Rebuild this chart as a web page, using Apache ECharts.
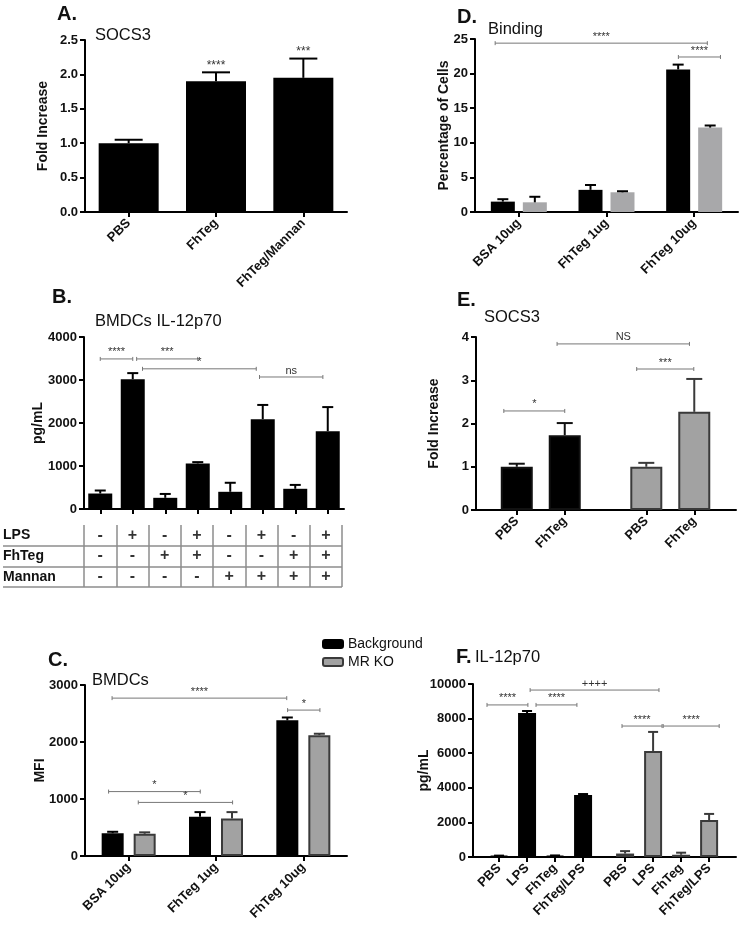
<!DOCTYPE html>
<html><head><meta charset="utf-8">
<script src="https://cdn.jsdelivr.net/npm/echarts@6/dist/echarts.min.js"></script>
<style>html,body{margin:0;padding:0;background:#fff}#c{width:742px;height:927px}</style>
</head><body><div id="c"></div>
<script>
// ---------- DATA ----------
// Panel A
const A_categories = ['PBS', 'FhTeg', 'FhTeg/Mannan'];
const A_values = [1.0, 1.9, 1.95];
const A_errors = [0.05, 0.13, 0.28];
const A_marks = ['', '****', '***'];
// Panel B
const B_values = [360, 3020, 260, 1060, 400, 2090, 470, 1810];
const B_errors = [70, 140, 90, 30, 210, 330, 90, 560];
const B_rows = ['LPS', 'FhTeg', 'Mannan'];
const B_LPS = ['-', '+', '-', '+', '-', '+', '-', '+'];
const B_FhTeg = ['-', '-', '+', '+', '-', '-', '+', '+'];
const B_Mannan = ['-', '-', '-', '-', '+', '+', '+', '+'];
const B_brackets = [[0, 1, 3490, '****'], [1.12, 3, 3490, '***'], [1.3, 4.8, 3260, '*'], [4.9, 6.85, 3070, 'ns']];
// Panel C
const C_categories = ['BSA 10ug', 'FhTeg 1ug', 'FhTeg 10ug'];
const C_background = [400, 690, 2380];
const C_backgroundErr = [25, 80, 50];
const C_mrko = [390, 660, 2120];
const C_mrkoErr = [25, 110, 25];
const C_brackets = [[-0.19, 1.81, 2770, '****'], [1.82, 2.19, 2560, '*'], [-0.23, 0.82, 1130, '*'], [0.11, 1.19, 940, '*']];
// Panel D
const D_categories = ['BSA 10ug', 'FhTeg 1ug', 'FhTeg 10ug'];
const D_background = [1.5, 3.2, 20.6];
const D_backgroundErr = [0.35, 0.7, 0.7];
const D_mrko = [1.4, 2.85, 12.2];
const D_mrkoErr = [0.8, 0.15, 0.3];
const D_brackets = [[-0.27, 2.15, 24.4, '****'], [1.82, 2.3, 22.4, '****']];
// Panel E
const E_categories = ['PBS', 'FhTeg', 'PBS', 'FhTeg'];
const E_background = [1.0, 1.73];
const E_backgroundErr = [0.07, 0.28];
const E_mrko = [1.0, 2.27];
const E_mrkoErr = [0.09, 0.76];
const E_brackets = [[0.73, 2.0, 2.29, '*'], [1.84, 4.6, 3.84, 'NS'], [3.5, 4.69, 3.26, '***']];
// Panel F
const F_categories = ['PBS', 'LPS', 'FhTeg', 'FhTeg/LPS', 'PBS', 'LPS', 'FhTeg', 'FhTeg/LPS'];
const F_background = [60, 8320, 60, 3580];
const F_backgroundErr = [20, 120, 30, 60];
const F_mrko = [200, 6130, 130, 2140];
const F_mrkoErr = [140, 1100, 120, 350];
const F_brackets = [[0.57, 2.03, 8790, '****'], [2.32, 3.78, 8790, '****'], [2.11, 6.71, 9650, '++++'], [5.39, 6.82, 7570, '****'], [6.86, 8.86, 7570, '****']];

// ---------- LAYOUT / STYLE ----------
const FONT = "'Liberation Sans', Arial, Helvetica, sans-serif";
const GREY = '#a2a2a2', GREY_D = '#a8a8aa', EDGE = '#3a3a3a';
const E_slots = [1, 2, 3.7, 4.7];           // x-axis slot positions (layout)
const F_slots = [1, 2, 3, 4, 5.5, 6.5, 7.5, 8.5];

function grid(l, t, r, b) { return { left: l, top: t, width: r - l, height: b - t, outerBoundsMode: 'none' }; }
const lineSt = { color: '#000', width: 2 };
function yAx(gi, max, interval, name, gap, fmt) {
  return { type: 'value', gridIndex: gi, min: 0, max, interval, name, nameLocation: 'middle', nameGap: gap, nameMoveOverlap: false,
    nameTextStyle: { fontFamily: FONT, fontWeight: 'bold', fontSize: 14, color: '#111' },
    axisLine: { show: true, onZero: false, lineStyle: lineSt },
    axisTick: { show: true, length: 5, lineStyle: lineSt },
    axisLabel: { fontFamily: FONT, fontWeight: 'bold', fontSize: 13, color: '#111', margin: 7, formatter: fmt || (v => String(v)) },
    splitLine: { show: false } };
}
function xCat(gi, data, showLabels) {
  return { type: 'category', gridIndex: gi, data,
    axisLine: { show: true, onZero: false, lineStyle: lineSt },
    axisTick: { show: true, alignWithLabel: true, length: 5, lineStyle: lineSt },
    axisLabel: { show: showLabels, interval: 0, rotate: 45, margin: 9, fontFamily: FONT, fontWeight: 'bold', fontSize: 13, color: '#111' },
    splitLine: { show: false } };
}
function xVal(gi, min, max, slots, labels) {
  return { type: 'value', gridIndex: gi, min, max,
    axisLine: { show: true, onZero: false, lineStyle: lineSt },
    axisTick: { show: true, customValues: slots, length: 5, lineStyle: lineSt },
    axisLabel: { customValues: slots, rotate: 45, margin: 9, fontFamily: FONT, fontWeight: 'bold', fontSize: 13, color: '#111',
      formatter: v => { const i = slots.indexOf(v); return i >= 0 ? labels[i] : ''; } },
    splitLine: { show: false } };
}
function bar(ax, data, bw, color, border, gap, name) {
  return { type: 'bar', name, xAxisIndex: ax, yAxisIndex: ax, data, barWidth: bw, barGap: gap, silent: true,
    itemStyle: { color, borderColor: border || color, borderWidth: border ? 2 : 0 } };
}
function errs(ax, xs, vals, errors, offset, capW, color, marks) {
  return { type: 'custom', xAxisIndex: ax, yAxisIndex: ax, silent: true, z: 5,
    data: vals.map((v, i) => [xs[i], v, errors[i]]),
    renderItem(params, api) {
      const x = api.value(0), v = api.value(1), e = api.value(2);
      const p0 = api.coord([x, v]), p1 = api.coord([x, v + e]);
      const cx = p0[0] + offset;
      const ch = [
        { type: 'line', shape: { x1: cx, y1: p0[1], x2: cx, y2: p1[1] }, style: { stroke: color, lineWidth: 2 } },
        { type: 'line', shape: { x1: cx - capW / 2, y1: p1[1], x2: cx + capW / 2, y2: p1[1] }, style: { stroke: color, lineWidth: 2 } }
      ];
      const m = marks && marks[params.dataIndex];
      if (m) ch.push({ type: 'text', style: { text: m, x: cx, y: p1[1] - 1, align: 'center', verticalAlign: 'bottom', font: '12px ' + FONT, fill: '#333' } });
      return { type: 'group', children: ch };
    } };
}
function brackets(ax, brs) {
  return { type: 'custom', xAxisIndex: ax, yAxisIndex: ax, silent: true, z: 6,
    data: brs.map(b => [0, b[2]]),
    renderItem(params, api) {
      const b = brs[params.dataIndex];
      const base = api.coord([0, b[2]]);
      const unit = api.size([1, 0])[0];
      const x1 = base[0] + b[0] * unit, x2 = base[0] + b[1] * unit, y = base[1];
      const st = { stroke: '#777', lineWidth: 1 };
      return { type: 'group', children: [
        { type: 'line', shape: { x1, y1: y, x2, y2: y }, style: st },
        { type: 'line', shape: { x1, y1: y - 2, x2: x1, y2: y + 2 }, style: st },
        { type: 'line', shape: { x1: x2, y1: y - 2, x2, y2: y + 2 }, style: st },
        { type: 'text', style: { text: b[3], x: (x1 + x2) / 2, y: y - 1, align: 'center', verticalAlign: 'bottom', font: '11px ' + FONT, fill: '#333' } }
      ] };
    } };
}
const T = (text, left, top, size, bold) => ({ text, left, top, padding: 0,
  textStyle: { fontFamily: FONT, fontSize: size, fontWeight: bold ? 'bold' : 'normal', color: '#111' } });

const idx = a => a.map((_, i) => i);
const tableSigns = [];
[B_LPS, B_FhTeg, B_Mannan].forEach((row, r) => row.forEach((s, c) => tableSigns.push({ c, r, s })));

// grouped-bar geometry
const C_bw = 22, C_gap = 10 / 22, C_off = (C_bw * (1 + C_gap)) / 2;
const D_bw = 24, D_gap = 8 / 24, D_off = (D_bw * (1 + D_gap)) / 2;

const option = {
  animation: false,
  backgroundColor: '#fff',
  textStyle: { fontFamily: FONT },
  title: [
    T('A.', 57, 4, 20, true), T('SOCS3', 95, 27, 16.5),
    T('B.', 52, 287, 20, true), T('BMDCs IL-12p70', 95, 313, 16.5),
    T('C.', 48, 650, 20, true), T('BMDCs', 92, 672, 16.5),
    T('D.', 457, 7, 20, true), T('Binding', 488, 21, 16.5),
    T('E.', 457, 290, 20, true), T('SOCS3', 484, 309, 16.5),
    T('F.', 456, 647, 20, true), T('IL-12p70', 475, 649, 16.5)
  ],
  legend: { left: 317, top: 632, orient: 'vertical', itemWidth: 20, itemHeight: 8, itemGap: 4, icon: 'roundRect', selectedMode: false,
    textStyle: { fontFamily: FONT, fontSize: 14, color: '#111' },
    data: [{ name: 'Background', itemStyle: { color: '#000' } },
           { name: 'MR KO', itemStyle: { color: GREY, borderColor: EDGE, borderWidth: 2 } }] },
  grid: [
    grid(85, 40, 347, 212),   // 0 A
    grid(84, 337, 344, 509),  // 1 B
    grid(3, 525, 342, 587),   // 2 B table rows
    grid(84, 525, 342, 587),  // 3 B table cells
    grid(85, 685, 347, 856),  // 4 C
    grid(475, 39, 738, 212),  // 5 D
    grid(476, 337, 736, 510), // 6 E
    grid(473, 684, 736, 857)  // 7 F
  ],
  xAxis: [
    xCat(0, A_categories, true),
    xCat(1, idx(B_values).map(String), false),
    { type: 'value', gridIndex: 2, show: false, min: 0, max: 1 },
    { type: 'category', gridIndex: 3, data: idx(B_LPS).map(String), axisLine: { show: false }, axisTick: { show: false }, axisLabel: { show: false },
      splitLine: { show: true, showMinLine: true, showMaxLine: true, lineStyle: { color: '#8c8c8c', width: 1.5 } } },
    xCat(4, C_categories, true),
    xCat(5, D_categories, true),
    xVal(6, 0.15, 5.57, E_slots, E_categories),
    xVal(7, 0.07, 9.46, F_slots, F_categories)
  ],
  yAxis: [
    yAx(0, 2.5, 0.5, 'Fold Increase', 35, v => v.toFixed(1)),
    yAx(1, 4000, 1000, 'pg/mL', 39),
    { type: 'category', gridIndex: 2, data: B_rows, inverse: true, axisLine: { show: false }, axisTick: { show: false },
      axisLabel: { inside: true, margin: 0, align: 'left', fontFamily: FONT, fontWeight: 'bold', fontSize: 14, color: '#111' },
      splitLine: { show: true, showMinLine: false, showMaxLine: true, lineStyle: { color: '#8c8c8c', width: 1.5 } } },
    { type: 'category', gridIndex: 3, data: B_rows, inverse: true, show: false },
    yAx(4, 3000, 1000, 'MFI', 38),
    yAx(5, 25, 5, 'Percentage of Cells', 24),
    yAx(6, 4, 1, 'Fold Increase', 35),
    yAx(7, 10000, 2000, 'pg/mL', 42)
  ],
  series: [
    // A
    bar(0, A_values, 60, '#000'),
    errs(0, idx(A_values), A_values, A_errors, 0, 28, '#000', A_marks),
    // B
    bar(1, B_values, 24, '#000'),
    errs(1, idx(B_values), B_values, B_errors, 0, 11, '#000'),
    brackets(1, B_brackets),
    // B table
    { type: 'scatter', xAxisIndex: 3, yAxisIndex: 3, silent: true, symbolSize: 4, itemStyle: { color: 'rgba(0,0,0,0)' },
      data: tableSigns.map(t => [t.c, t.r]),
      label: { show: true, position: 'inside', formatter: p => tableSigns[p.dataIndex].s, fontFamily: FONT, fontWeight: 'bold', fontSize: 16, color: '#000' } },
    // C
    bar(4, C_background, C_bw, '#000', '#000', (C_gap * 100) + '%', 'Background'),
    bar(4, C_mrko, C_bw, GREY, EDGE, (C_gap * 100) + '%', 'MR KO'),
    errs(4, idx(C_background), C_background, C_backgroundErr, -C_off, 11, '#000'),
    errs(4, idx(C_mrko), C_mrko, C_mrkoErr, C_off, 11, EDGE),
    brackets(4, C_brackets),
    // D
    bar(5, D_background, D_bw, '#000', null, (D_gap * 100) + '%', 'Background '),
    bar(5, D_mrko, D_bw, GREY_D, null, (D_gap * 100) + '%', 'MR KO '),
    errs(5, idx(D_background), D_background, D_backgroundErr, -D_off, 11, '#000'),
    errs(5, idx(D_mrko), D_mrko, D_mrkoErr, D_off, 11, '#000'),
    brackets(5, D_brackets),
    // E
    bar(6, E_background.map((v, i) => [E_slots[i], v]), 32, '#000', '#111', '-100%', 'Background  '),
    bar(6, E_mrko.map((v, i) => [E_slots[i + 2], v]), 32, GREY, EDGE, '-100%', 'MR KO  '),
    errs(6, E_slots.slice(0, 2), E_background, E_backgroundErr, 0, 16, '#111'),
    errs(6, E_slots.slice(2), E_mrko, E_mrkoErr, 0, 16, EDGE),
    brackets(6, E_brackets),
    // F
    bar(7, F_background.map((v, i) => [F_slots[i], v]), 18, '#000', '#000', '-100%', 'Background   '),
    bar(7, F_mrko.map((v, i) => [F_slots[i + 4], v]), 18, GREY, EDGE, '-100%', 'MR KO   '),
    errs(7, F_slots.slice(0, 4), F_background, F_backgroundErr, 0, 10, '#000'),
    errs(7, F_slots.slice(4), F_mrko, F_mrkoErr, 0, 10, EDGE),
    brackets(7, F_brackets)
  ]
};
const chart = echarts.init(document.getElementById('c'), null, { renderer: 'canvas' });
chart.setOption(option);
</script>
</body></html>
